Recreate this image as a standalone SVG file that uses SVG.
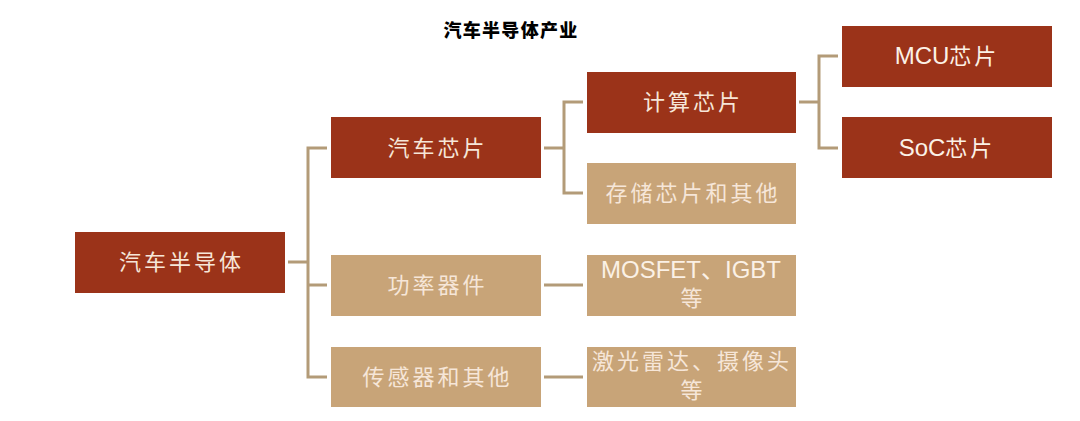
<svg xmlns="http://www.w3.org/2000/svg" width="1080" height="421" viewBox="0 0 1080 421">
<style>
.dark{fill:#9B3319}
.tan{fill:#C8A478}
.t{font-family:"Noto Sans CJK SC","Liberation Sans",sans-serif;font-size:22px;letter-spacing:3px;fill:#F6E6D8;text-anchor:middle}
.m{font-family:"Liberation Sans","Noto Sans CJK SC",sans-serif;font-size:24px;fill:#FBF1E6;text-anchor:middle}
.c{fill:none;stroke:#B39B78;stroke-width:3}
</style>
<rect width="1080" height="421" fill="#FFFFFF"/>
<text x="511" y="37" font-family="'Noto Sans CJK SC',sans-serif" font-size="18" font-weight="900" letter-spacing="1.3" text-anchor="middle" fill="#000">汽车半导体产业</text>
<g id="connectors">
<path class="c" d="M288 262H308M327 148H308V377H327M308 285H327"/>
<path class="c" d="M544 148H564M583 102H564V193H583"/>
<path class="c" d="M799 102H819M838 56H819V148H838"/>
<path class="c" d="M544 285H583"/>
<path class="c" d="M544 377H583"/>
</g>
<g id="n-root"><rect class="dark" x="75" y="232" width="210" height="61"/><text class="t" x="181.5" y="270">汽车半导体</text></g>
<g id="n-chip"><rect class="dark" x="331" y="117" width="210" height="61"/><text class="t" x="437.5" y="156">汽车芯片</text></g>
<g id="n-compute"><rect class="dark" x="587" y="72" width="209" height="61"/><text class="t" x="693" y="110">计算芯片</text></g>
<g id="n-storage"><rect class="tan" x="587" y="163" width="209" height="61"/><text class="t" x="693" y="201">存储芯片和其他</text></g>
<g id="n-mcu"><rect class="dark" x="842" y="26" width="210" height="61"/><text class="m" x="947" y="64">MCU<tspan font-family="'Noto Sans CJK SC',sans-serif" font-size="22" letter-spacing="3">芯片</tspan></text></g>
<g id="n-soc"><rect class="dark" x="842" y="117" width="210" height="61"/><text class="m" x="947" y="156">SoC<tspan font-family="'Noto Sans CJK SC',sans-serif" font-size="22" letter-spacing="3">芯片</tspan></text></g>
<g id="n-power"><rect class="tan" x="331" y="255" width="210" height="61"/><text class="t" x="437.5" y="293">功率器件</text></g>
<g id="n-mosfet"><rect class="tan" x="587" y="255" width="209" height="61"/><text class="m" x="691" y="278">MOSFET<tspan font-family="'Noto Sans CJK SC',sans-serif">、</tspan>IGBT</text><text class="t" x="693" y="306">等</text></g>
<g id="n-sensor"><rect class="tan" x="331" y="347" width="210" height="60"/><text class="t" x="437.5" y="385">传感器和其他</text></g>
<g id="n-lidar"><rect class="tan" x="587" y="347" width="209" height="60"/><text class="t" x="692" y="369">激光雷达、摄像头</text><text class="t" x="693" y="398">等</text></g>
</svg>
